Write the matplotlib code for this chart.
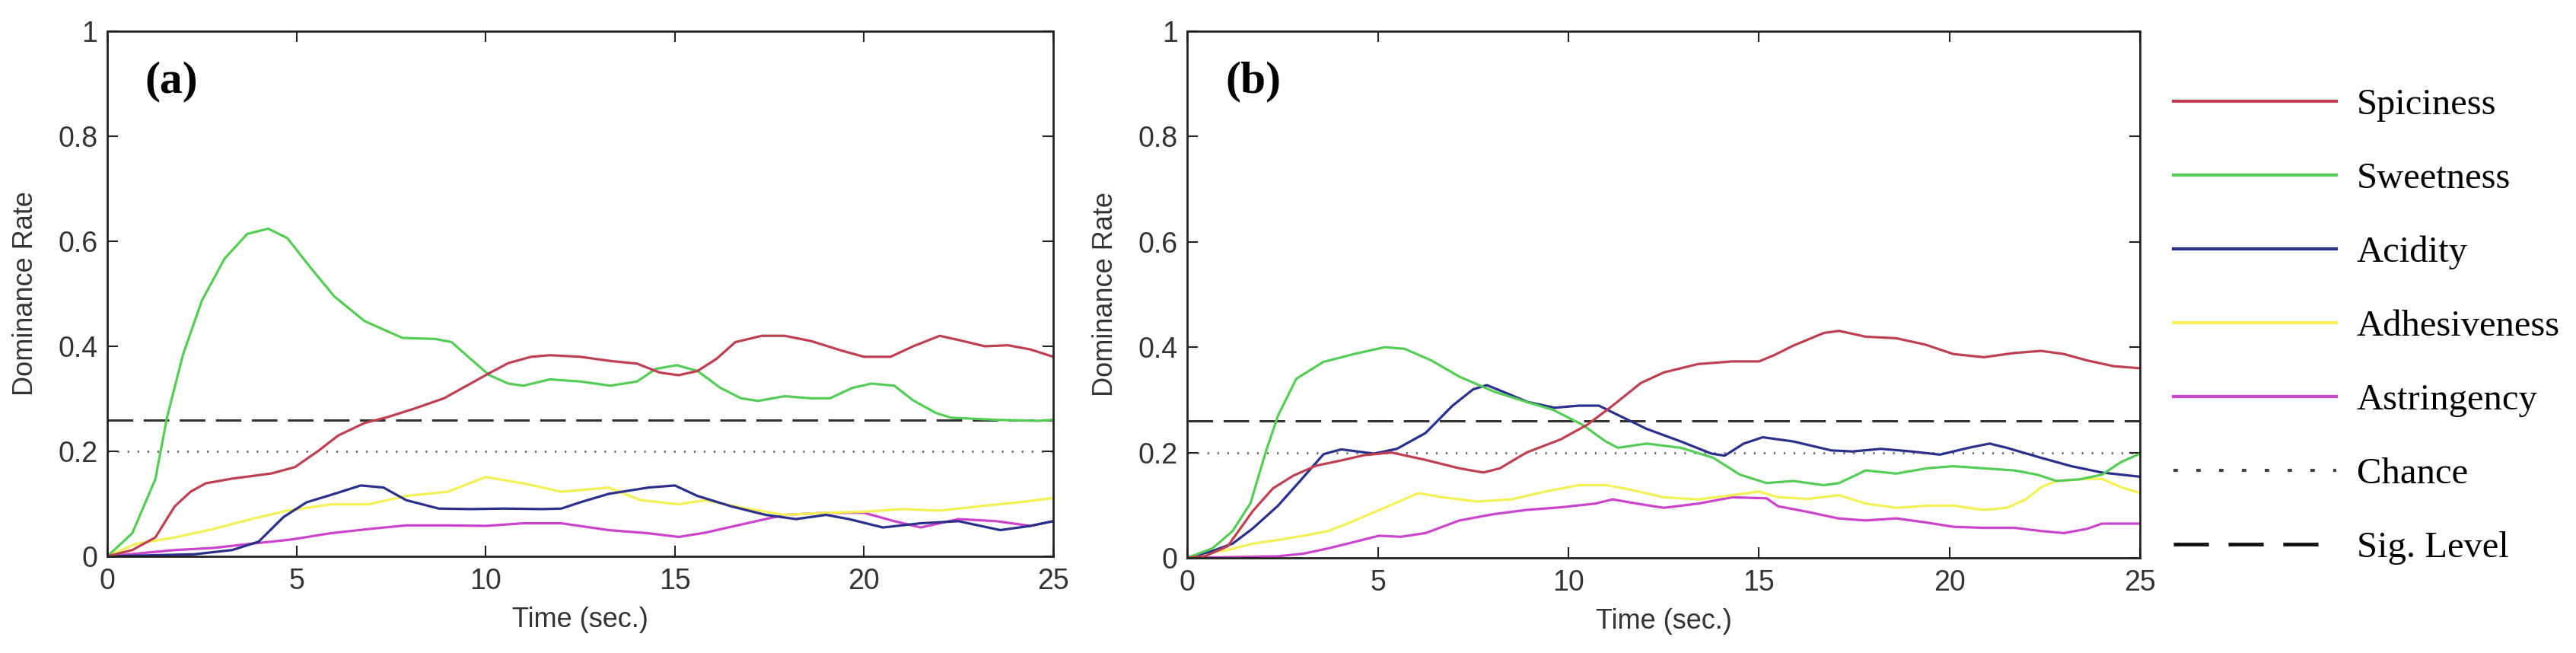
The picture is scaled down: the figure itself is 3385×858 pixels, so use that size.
import matplotlib
matplotlib.use("Agg")
import matplotlib.pyplot as plt
from matplotlib.lines import Line2D

# ---- data (time in sec, dominance rate) ----
# panel (a)
a_spic_t = [0, 0.66, 1.27, 1.78, 2.2, 2.6, 3.3, 4.35, 4.96, 5.6, 6.1, 6.8, 7.4, 8.1, 8.9, 9.5, 10.1, 10.6,
            11.2, 11.7, 12.5, 13.3, 14.0, 14.6, 15.1, 15.6, 16.1, 16.6, 17.3, 17.9, 18.6, 19.4, 20.0,
            20.7, 21.3, 22.0, 22.5, 23.2, 23.8, 24.4, 25]
a_spic = [0, 0.012, 0.036, 0.095, 0.123, 0.139, 0.148, 0.158, 0.17, 0.202, 0.23, 0.254, 0.265, 0.281, 0.301,
          0.325, 0.349, 0.368, 0.38, 0.383, 0.38, 0.372, 0.367, 0.35, 0.345, 0.353, 0.376, 0.408, 0.42,
          0.42, 0.41, 0.392, 0.38, 0.38, 0.4, 0.42, 0.412, 0.4, 0.402, 0.394, 0.38]
a_sweet_t = [0, 0.66, 1.27, 1.58, 2.0, 2.5, 3.1, 3.7, 4.25, 4.76, 5.37, 6.0, 6.8, 7.8, 8.66, 9.1, 9.6, 10.1,
             10.6, 11.0, 11.7, 12.5, 13.3, 14.0, 14.5, 15.05, 15.6, 16.2, 16.75, 17.2, 17.9, 18.6, 19.1,
             19.7, 20.2, 20.8, 21.3, 21.9, 22.3, 23.5, 24.6, 25]
a_sweet = [0, 0.044, 0.147, 0.265, 0.384, 0.487, 0.567, 0.614, 0.624, 0.606, 0.55, 0.495, 0.448, 0.416,
           0.414, 0.408, 0.376, 0.345, 0.329, 0.325, 0.337, 0.333, 0.325, 0.333, 0.357, 0.364, 0.353,
           0.321, 0.301, 0.296, 0.305, 0.301, 0.301, 0.321, 0.329, 0.325, 0.297, 0.273, 0.264, 0.26,
           0.258, 0.26]
a_acid_t = [0, 2.3, 3.3, 4.0, 4.66, 5.27, 6.0, 6.7, 7.3, 7.9, 8.76, 9.6, 10.5, 11.5, 12.0, 12.55, 13.25,
            14.3, 15.0, 15.6, 16.5, 17.4, 18.2, 19.0, 19.6, 20.5, 21.5, 22.5, 23.6, 24.4, 25]
a_acid = [0, 0.004, 0.012, 0.028, 0.075, 0.103, 0.119, 0.135, 0.131, 0.107, 0.091, 0.09, 0.091, 0.09,
          0.091, 0.104, 0.119, 0.131, 0.135, 0.115, 0.095, 0.079, 0.071, 0.079, 0.071, 0.055, 0.063,
          0.067, 0.05, 0.058, 0.067]
a_adhe_t = [0, 0.76, 1.78, 2.8, 3.8, 4.76, 5.9, 6.9, 7.9, 9.0, 10.0, 11.0, 12.0, 13.25, 14.1, 15.1, 15.8,
            16.9, 17.9, 19.0, 20.0, 21.0, 22.0, 23.0, 24.1, 25]
a_adhe = [0, 0.024, 0.036, 0.052, 0.071, 0.087, 0.099, 0.099, 0.115, 0.123, 0.151, 0.139, 0.123, 0.131,
          0.107, 0.099, 0.107, 0.091, 0.079, 0.083, 0.085, 0.09, 0.087, 0.095, 0.103, 0.111]
a_astr_t = [0, 1.78, 2.8, 3.8, 4.86, 5.9, 6.9, 7.9, 9.0, 10.0, 11.0, 12.0, 13.25, 14.3, 15.1, 15.8, 16.9,
            17.9, 19.0, 20.0, 20.8, 21.5, 22.5, 23.5, 24.4, 25]
a_astr = [0, 0.012, 0.016, 0.024, 0.032, 0.044, 0.052, 0.059, 0.059, 0.058, 0.063, 0.063, 0.05, 0.044,
          0.037, 0.045, 0.063, 0.079, 0.083, 0.083, 0.067, 0.055, 0.071, 0.067, 0.058, 0.067]

# panel (b)
b_spic_t = [0, 0.46, 1.06, 1.72, 2.25, 2.78, 3.38, 4.04, 4.64, 5.36, 6.25, 7.14, 7.77, 8.2, 8.9, 9.8, 10.5,
            11.16, 11.9, 12.5, 13.4, 14.3, 15.0, 15.4, 15.9, 16.7, 17.1, 17.8, 18.6, 19.36, 20.1, 20.9,
            21.7, 22.4, 23.0, 23.6, 24.3, 25]
b_spic = [0, 0.003, 0.022, 0.089, 0.132, 0.156, 0.175, 0.185, 0.195, 0.2, 0.186, 0.17, 0.162, 0.17, 0.2,
          0.225, 0.253, 0.289, 0.332, 0.352, 0.368, 0.373, 0.373, 0.385, 0.403, 0.427, 0.431, 0.42, 0.417,
          0.405, 0.387, 0.381, 0.389, 0.393, 0.387, 0.375, 0.364, 0.36]
b_sweet_t = [0, 0.66, 1.19, 1.66, 2.05, 2.38, 2.86, 3.57, 4.375, 5.18, 5.7, 6.4, 7.14, 8.04, 8.9, 9.6,
             10.36, 10.98, 11.3, 12.05, 12.95, 13.8, 14.5, 15.2, 15.9, 16.7, 17.1, 17.8, 18.6, 19.4, 20.1,
             20.9, 21.7, 22.3, 22.8, 23.4, 24.0, 24.5, 25]
b_sweet = [0, 0.018, 0.051, 0.104, 0.199, 0.27, 0.34, 0.372, 0.387, 0.4, 0.397, 0.375, 0.344, 0.316,
           0.296, 0.281, 0.253, 0.221, 0.209, 0.217, 0.209, 0.19, 0.158, 0.142, 0.146, 0.138, 0.142,
           0.166, 0.16, 0.17, 0.174, 0.17, 0.166, 0.158, 0.146, 0.149, 0.158, 0.182, 0.198]
b_acid_t = [0, 0.66, 1.19, 1.72, 2.38, 2.91, 3.31, 3.58, 4.04, 4.57, 4.9, 5.5, 6.25, 6.96, 7.5, 7.86, 8.4,
            8.93, 9.64, 10.27, 10.8, 11.25, 12.05, 12.95, 13.75, 14.1, 14.6, 15.1, 15.9, 16.9, 17.45,
            18.2, 19.0, 19.75, 20.5, 21.05, 21.5, 22.4, 23.2, 24.0, 25]
b_acid = [0, 0.013, 0.027, 0.056, 0.099, 0.142, 0.175, 0.197, 0.206, 0.201, 0.198, 0.207, 0.237, 0.289,
          0.32, 0.328, 0.312, 0.296, 0.285, 0.289, 0.289, 0.273, 0.245, 0.221, 0.198, 0.194, 0.217,
          0.229, 0.221, 0.204, 0.202, 0.207, 0.202, 0.196, 0.209, 0.217, 0.209, 0.19, 0.174, 0.162, 0.154]
b_adhe_t = [0, 0.4, 1.06, 1.72, 2.38, 3.05, 3.7, 4.37, 5.36, 6.07, 6.7, 7.6, 8.5, 9.4, 10.27, 11.0, 11.6,
            12.5, 13.4, 14.3, 15.0, 15.5, 16.3, 17.1, 17.8, 18.6, 19.4, 20.1, 20.9, 21.5, 22.0, 22.4,
            22.8, 23.6, 24.0, 24.5, 25]
b_adhe = [0, 0.008, 0.015, 0.027, 0.034, 0.042, 0.051, 0.07, 0.101, 0.123, 0.115, 0.107, 0.111, 0.126,
          0.138, 0.138, 0.13, 0.115, 0.111, 0.119, 0.126, 0.115, 0.112, 0.119, 0.103, 0.095, 0.099,
          0.099, 0.091, 0.095, 0.111, 0.134, 0.146, 0.15, 0.15, 0.134, 0.123]
b_astr_t = [0, 2.38, 3.05, 3.7, 4.37, 5.03, 5.6, 6.25, 7.14, 8.04, 8.9, 9.8, 10.7, 11.16, 11.8, 12.5,
            13.4, 14.3, 15.2, 15.5, 16.3, 17.07, 17.8, 18.6, 19.4, 20.1, 20.9, 21.7, 22.4, 23.0, 23.6,
            24.0, 25]
b_astr = [0, 0.003, 0.008, 0.018, 0.03, 0.042, 0.04, 0.047, 0.071, 0.083, 0.091, 0.096, 0.103, 0.111,
          0.103, 0.095, 0.103, 0.115, 0.113, 0.098, 0.087, 0.075, 0.071, 0.075, 0.067, 0.059, 0.057,
          0.057, 0.051, 0.047, 0.055, 0.065, 0.065]

names = ["Spiciness", "Sweetness", "Acidity", "Adhesiveness", "Astringency"]
colors = ["#bf3f52", "#55cc55", "#2b2f8c", "#f2f255", "#cc44cc"]
chance = 0.2
sig_level = 0.26

panels = [
    ("(a)", [(a_spic_t, a_spic), (a_sweet_t, a_sweet), (a_acid_t, a_acid), (a_adhe_t, a_adhe), (a_astr_t, a_astr)]),
    ("(b)", [(b_spic_t, b_spic), (b_sweet_t, b_sweet), (b_acid_t, b_acid), (b_adhe_t, b_adhe), (b_astr_t, b_astr)]),
]

plt.rcParams['font.family'] = ['Liberation Sans', 'DejaVu Sans']

fig = plt.figure(figsize=(33.85, 8.58), dpi=100)
ax_a = fig.add_axes([0.04165, 0.148, 0.3672, 0.8042])
ax_b = fig.add_axes([0.4609, 0.1457, 0.3699, 0.8065])

for ax, (tag, series) in zip([ax_a, ax_b], panels):
    ax.axhline(chance, color="#666666", lw=2, dashes=(0.8, 3.9), zorder=1)
    ax.axhline(sig_level, color="#333333", lw=2.2, dashes=(11, 4.5), zorder=1)
    # draw in reverse so red ends up on top
    for (t, v), c in reversed(list(zip(series, colors))):
        ax.plot(t, v, color=c, lw=2.3)
    ax.set_xlim(0, 25)
    ax.set_ylim(0, 1)
    ax.set_xticks([0, 5, 10, 15, 20, 25])
    ax.set_yticks([0, 0.2, 0.4, 0.6, 0.8, 1])
    ax.set_yticklabels(["0", "0.2", "0.4", "0.6", "0.8", "1"])
    ax.tick_params(direction="in", length=10, width=1.5, top=True, right=True,
                   labelsize=27, labelcolor="#333333", color="#222222")
    ax.tick_params(axis="x", pad=11)
    ax.tick_params(axis="y", pad=9)
    for s in ax.spines.values():
        s.set_linewidth(2)
        s.set_color("#222222")
    ax.set_xlabel("Time (sec.)", fontsize=26, color="#333333")
    ax.set_ylabel("Dominance Rate", fontsize=26, color="#333333")
    ax.xaxis.set_label_coords(0.5, -0.095)
    ax.yaxis.set_label_coords(-0.072, 0.5)
    ax.text(0.04, 0.904, tag, transform=ax.transAxes, fontsize=43, fontweight="bold",
            family="Liberation Serif", ha="left", va="center")

handles = [Line2D([], [], color=c, lw=3) for c in colors]
handles.append(Line2D([], [], color="#444444", lw=3, dashes=(1.4, 5.8)))
handles.append(Line2D([], [], color="#111111", lw=3.5, dashes=(9.5, 5.3), dash_capstyle="butt"))
labels = names + ["Chance", "Sig. Level"]

fig.legend(handles, labels, loc="upper left", bbox_to_anchor=(0.8437, 0.865),
           frameon=False, borderpad=0, borderaxespad=0, handlelength=4.4, handletextpad=0.55,
           labelspacing=1.09, prop={"family": "Liberation Serif", "size": 35})

fig.savefig("out.png", dpi=100)
